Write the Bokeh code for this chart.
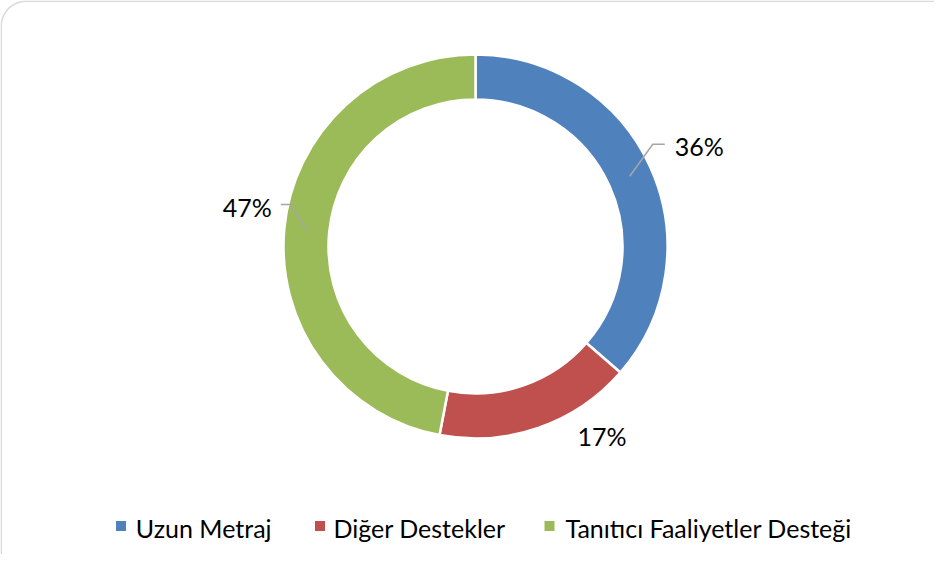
import numpy as np
from bokeh.plotting import figure
from bokeh.models import Range1d, ColumnDataSource
from bokeh.core.properties import value
from bokeh.embed import file_html
from bokeh.resources import INLINE

# ---- data ----
categories = ["Uzun Metraj", "Diğer Destekler", "Tanıtıcı Faaliyetler Desteği"]
shares = [36.4, 16.6, 47.0]
labels = ["36%", "17%", "47%"]
colors = ["#4F81BD", "#C0504D", "#9BBB59"]

# ---- layout (pixel-like data units) ----
W, H = 934, 554
cx, cy = 475, 308
r_out, r_in = 192, 147
FONT = "Lato"
FS = "25px"

p = figure(width=W, height=H, x_range=Range1d(0, W), y_range=Range1d(0, H),
           output_backend="svg", toolbar_location=None,
           x_axis_location=None, y_axis_location=None, min_border=0)
p.grid.visible = False
p.outline_line_color = None
p.background_fill_color = "white"
p.border_fill_color = "white"

# rounded border (top-left corner visible)
rad = 25
x0, ytop = 0.75, 553.25
t = np.linspace(np.pi, np.pi / 2, 30)
bx = [x0, x0] + list(x0 + rad + rad * np.cos(t)) + [W + 10]
by = [-10, ytop - rad] + list(ytop - rad + rad * np.sin(t)) + [ytop]
p.line(bx, by, line_color="#D9D9D9", line_width=1.5)

# donut
vals = np.array(shares, dtype=float)
frac = vals / vals.sum()
cum = np.concatenate([[0], np.cumsum(frac)])
start = np.pi / 2 - cum[:-1] * 2 * np.pi
end = np.pi / 2 - cum[1:] * 2 * np.pi
src = ColumnDataSource(dict(x=[cx] * 3, y=[cy] * 3, start=start, end=end,
                            color=colors, cat=categories))
p.annular_wedge(x="x", y="y", inner_radius=r_in, outer_radius=r_out,
                start_angle="start", end_angle="end", direction="clock",
                fill_color="color", line_color="white", line_width=2.5, source=src)

mid = (start + end) / 2
r_mid = (r_in + r_out) / 2
sx = cx + r_mid * np.cos(mid)
sy = cy + r_mid * np.sin(mid)

lead_col = "#A6A6A6"
# blue label with leader
ex, ey = sx[0] + 23, sy[0] + 32
p.line([sx[0], ex, ex + 12], [sy[0], ey, ey], line_color=lead_col, line_width=1.5)
p.text([ex + 22], [ey - 2], text=[labels[0]], text_font=value(FONT),
       text_font_size=FS, text_align="left", text_baseline="middle", text_color="black")
# green label with leader
gx, gy = sx[2] - 16, sy[2] + 26
p.line([sx[2], gx, gx - 10], [sy[2], gy, gy], line_color=lead_col, line_width=1.5)
p.text([gx - 19], [gy - 2], text=[labels[2]], text_font=value(FONT),
       text_font_size=FS, text_align="right", text_baseline="middle", text_color="black")
# red label
p.text([cx + 126.5], [cy - 189.5], text=[labels[1]], text_font=value(FONT),
       text_font_size=FS, text_align="center", text_baseline="middle", text_color="black")

# legend
sq_x = [120.5, 319.5, 549]
tx_x = [135.3, 333, 565]
p.scatter(sq_x, [28.5] * 3, marker="square", size=10, fill_color=colors, line_color=None)
p.text(tx_x, [27] * 3, text=categories, text_font=value(FONT), text_font_size=FS,
       text_align="left", text_baseline="middle", text_color="black")

open("out.html", "w").write(file_html(p, INLINE))
